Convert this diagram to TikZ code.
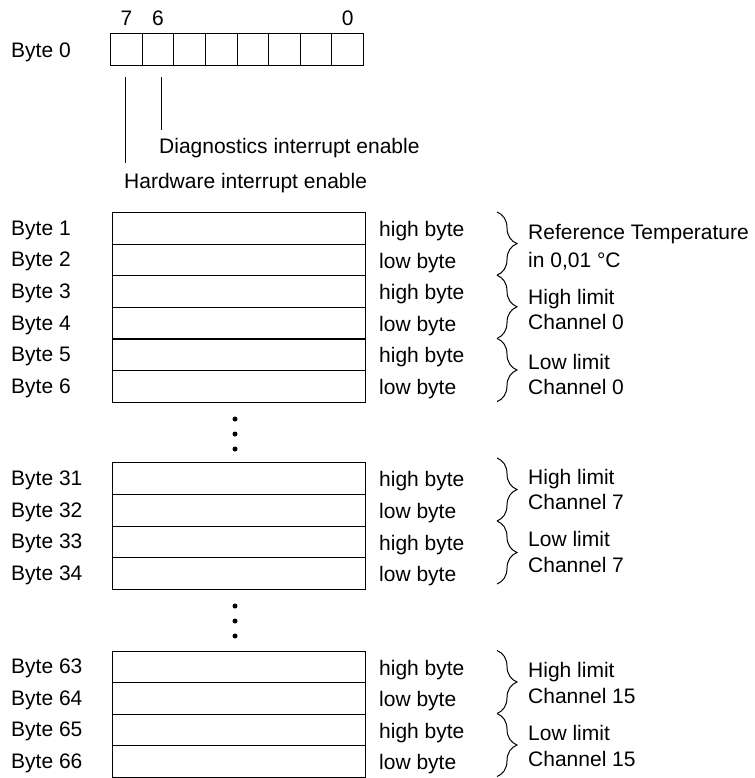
\documentclass[tikz,border=0pt]{standalone}
\usepackage{fontspec}
\setmainfont{Liberation Sans}
\usetikzlibrary{decorations.pathreplacing}
\begin{document}
\begin{tikzpicture}[x=1pt,y=-1pt,
  txt/.style={inner sep=0pt, anchor=base west, font=\fontsize{21}{25}\selectfont},
  num/.style={inner sep=0pt, anchor=base, font=\fontsize{21}{25}\selectfont},
  bitcell/.style={draw, line width=1.1pt, minimum width=31.625pt, minimum height=32pt, inner sep=0pt, anchor=north west},
  rowbox/.style={draw, line width=1.1pt, minimum width=253pt, minimum height=31.6pt, inner sep=0pt, anchor=north west},
  brc/.style={decorate, decoration={brace, amplitude=20pt}, line width=1pt},
  vdot/.style={circle, fill, inner sep=0pt, minimum size=5pt},
  pointer/.style={line width=1pt}]
\useasboundingbox (0,0) rectangle (754,778);

% Byte 0
\node[txt] (lbyte0) at (11,57.5) {Byte 0};
\foreach \i in {0,...,7}{
  \pgfmathtruncatemacro\b{7-\i}
  \node[bitcell] (bit\b) at ({110+31.625*\i},33) {};
}
\node[num] (n7) at (bit7.center |- 0,25.5) {7};
\node[num] (n6) at (bit6.center |- 0,25.5) {6};
\node[num] (n0) at (bit0.center |- 0,25.5) {0};

\coordinate (v7a) at (125,77);
\coordinate (v7b) at (125,163);
\coordinate (v6a) at (161,77);
\coordinate (v6b) at (161,130);
\draw[pointer] (v7a) -- (v7b);
\draw[pointer] (v6a) -- (v6b);
\node[txt] (diag) at (159,153.3) {Diagnostics interrupt enable};
\node[txt] (hw) at (124,188.3) {Hardware interrupt enable};

% rows
\foreach \n/\y/\hl in {1/212/high,2/243.6/low,3/275.2/high,4/306.8/low,5/338.4/high,6/370/low,
                       31/462.3/high,32/493.9/low,33/525.5/high,34/557.1/low,
                       63/650.5/high,64/682/low,65/713.5/high,66/745/low}{
  \node[rowbox] (row\n) at (112,\y) {};
  \node[txt] (lbl\n) at (11,{\y+23.3}) {Byte \n};
  \node[txt] (hl\n) at (379,{\y+24.5}) {\hl\ byte};
}

% dots
\foreach \k/\y in {a/419,b/434,c/449}{ \node[vdot] (d1\k) at (235,\y) {}; }
\foreach \k/\y in {a/606,b/621,c/636}{ \node[vdot] (d2\k) at (235,\y) {}; }

% braces
\coordinate (k1) at (497,212);
\coordinate (k2) at (497,275.2);
\coordinate (k3) at (497,338.4);
\coordinate (k4) at (497,401.6);
\coordinate (k5) at (497,458);
\coordinate (k6) at (497,521);
\coordinate (k7) at (497,584);
\coordinate (k8) at (497,650.5);
\coordinate (k9) at (497,713.5);
\coordinate (k10) at (497,776.5);
\draw[brc] (k1) -- (k2);
\draw[brc] (k2) -- (k3);
\draw[brc] (k3) -- (k4);
\draw[brc] (k5) -- (k6);
\draw[brc] (k6) -- (k7);
\draw[brc] (k8) -- (k9);
\draw[brc] (k9) -- (k10);

\node[txt] (t1a) at (528,239.5) {Reference Temperature};
\node[txt] (t1b) at (528,267.5) {in 0,01 °C};
\node[txt] (t2a) at (528,304.5) {High limit};
\node[txt] (t2b) at (528,329.5) {Channel 0};
\node[txt] (t3a) at (528,369.5) {Low limit};
\node[txt] (t3b) at (528,394.5) {Channel 0};
\node[txt] (t4a) at (528,484.5) {High limit};
\node[txt] (t4b) at (528,509.5) {Channel 7};
\node[txt] (t5a) at (528,546.5) {Low limit};
\node[txt] (t5b) at (528,572.5) {Channel 7};
\node[txt] (t6a) at (528,677.5) {High limit};
\node[txt] (t6b) at (528,703.5) {Channel 15};
\node[txt] (t7a) at (528,740.5) {Low limit};
\node[txt] (t7b) at (528,766.5) {Channel 15};
\end{tikzpicture}
\end{document}
